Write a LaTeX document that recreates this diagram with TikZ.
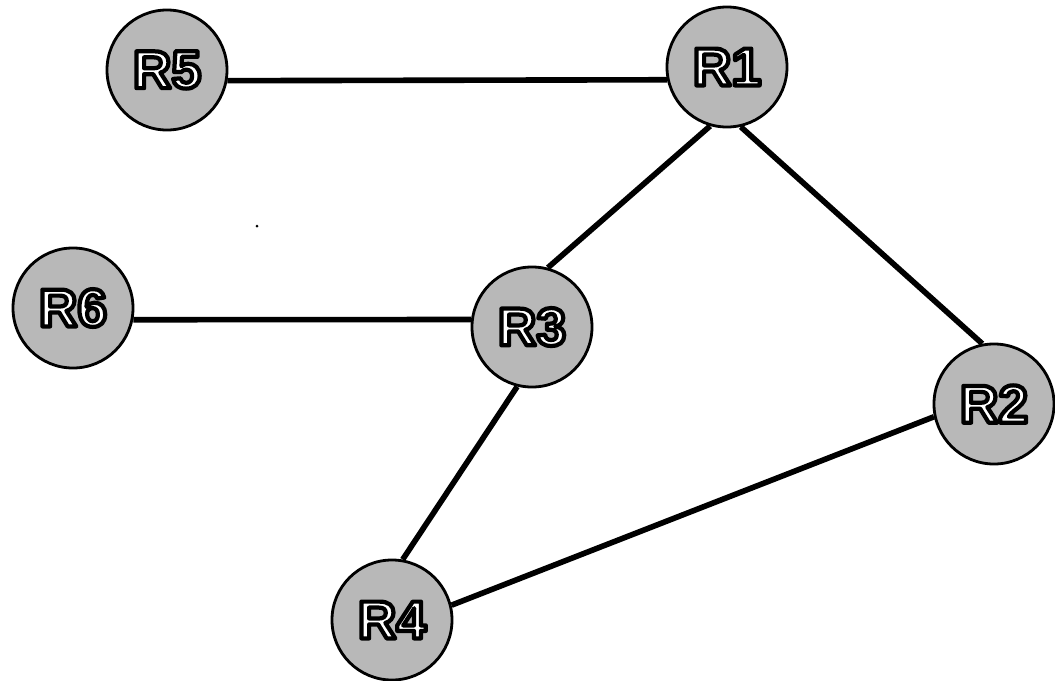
\documentclass[tikz,border=0pt]{standalone}
\usepackage{fontspec}
\setmainfont{Liberation Sans}
\newcommand\outl[1]{\special{pdf:literal direct 0 G 3 w 1 j 2 Tr 1 g}#1\special{pdf:literal direct 0 Tr}}
\tikzset{
  router/.style={circle, draw=black, line width=2pt, fill=black!28, minimum size=3cm, inner sep=0pt,
    text=white, font=\fontsize{38}{38}\selectfont\bfseries},
  link/.style={line width=4pt, black}
}
\begin{document}
\begin{tikzpicture}[x=0.025cm, y=-0.025cm]
\useasboundingbox (0,0) rectangle (1055,680);
\node[router] (R5) at (167,70) {\outl{R5}};
\node[router] (R1) at (727,67) {\outl{R1}};
\node[router] (R6) at (73,308) {\outl{R6}};
\node[router] (R3) at (532,327) {\outl{R3}};
\node[router] (R2) at (994,404) {\outl{R2}};
\node[router] (R4) at (392,620) {\outl{R4}};
\draw[link] (R5.-10) -- (R1.192);
\draw[link] (R1.-106) -- (R3.75);
\draw[link] (R1.-77) -- (R2.101);
\draw[link] (R6.-11) -- (R3.173);
\draw[link] (R3.-104) -- (R4.80);
\draw[link] (R4.14) -- (R2.192);
\fill (257,226) circle (1.5);
\end{tikzpicture}
\end{document}
